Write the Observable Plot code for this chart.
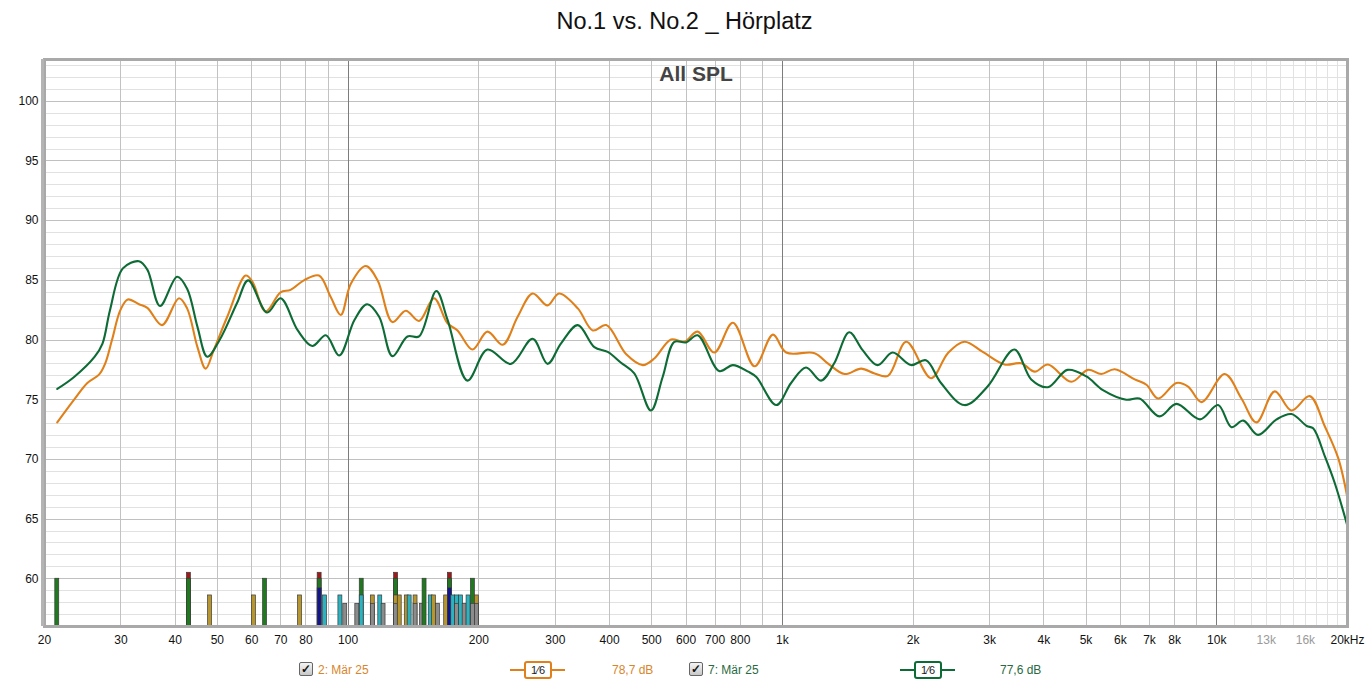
<!DOCTYPE html>
<html>
<head>
<meta charset="utf-8">
<script src="https://cdn.jsdelivr.net/npm/d3@7"></script>
<script src="https://cdn.jsdelivr.net/npm/@observablehq/plot@0.6"></script>
<style>
  html, body { margin: 0; padding: 0; background: #fff; }
  body { width: 1369px; height: 684px; position: relative; overflow: hidden; font-family: "Liberation Sans", Arial, sans-serif; }
  #title { position: absolute; left: 0; width: 1369px; top: 8px; text-align: center; font-size: 23.5px; color: #111; }
  #spl { position: absolute; left: 14px; top: 41px; font-size: 11px; color: #111; }
  #chart { position: absolute; left: 0; top: 40px; }
  .leg { position: absolute; top: 662px; font-size: 12px; line-height: 16px; white-space: nowrap; }
  .cb { position: absolute; top: 662px; width: 12px; height: 12px; border: 1px solid #666; border-radius: 2px;
        background: linear-gradient(#f4f4f4, #c8c8c8); font-size: 12px; line-height: 12px; text-align: center; color: #111; font-weight: bold; }
  .sym { position: absolute; top: 661px; height: 18px; }
  .sym .ln { position: absolute; top: 8px; left: 0; right: 0; height: 0; border-top: 2px solid; }
  .sym .bx { position: absolute; top: 0; left: 14px; width: 24px; height: 14px; background: #fff; border: 2px solid; border-radius: 3px;
             font-size: 11px; line-height: 14px; text-align: center; color: #222; }
</style>
</head>
<body>
<div id="title">No.1 vs. No.2 _ Hörplatz</div>
<div id="spl">SPL</div>
<div id="chart"></div>

<div class="cb" style="left:299px">✓</div>
<div class="leg" style="left:318px;color:#d8862c">2: Mär 25</div>
<div class="sym" style="left:510px;width:55px;color:#e0801a"><div class="ln"></div><div class="bx" style="border-color:#e0801a">1⁄6</div></div>
<div class="leg" style="left:612px;color:#d8862c">78,7 dB</div>
<div class="cb" style="left:689px">✓</div>
<div class="leg" style="left:708px;color:#2a6a42">7: Mär 25</div>
<div class="sym" style="left:900px;width:55px;color:#0d6b35"><div class="ln"></div><div class="bx" style="border-color:#0d6b35">1⁄6</div></div>
<div class="leg" style="left:1000px;color:#2a6a42">77,6 dB</div>

<script>
// ---- Data ----
const freqOrange = [21.4,23.4,25.1,26.7,27.6,28.6,29.9,31.1,33.0,34.5,37.3,40.8,42.6,45.0,47.0,49.1,52.7,58.1,60.2,64.6,69.9,73.7,79.1,85.7,91.2,96.2,101.4,109.8,116.9,126.5,135.8,145.7,157.7,169.4,178.6,193.4,209.3,227,245.7,266,287.8,306,338,366,393,437,477,507,554,594,638,697,769,863,951,1020,1186,1272,1390,1518,1630,1750,1928,2200,2404,2625,2892,3246,3548,3811,4087,4625,5052,5423,5821,6474,6888,7330,8074,8590,9227,10430,11400,12340,13600,14860,16370,17740,19040,20000];
const splOrange  = [73.1,75.0,76.4,77.1,78.05,80.0,82.5,83.4,83.0,82.7,81.25,83.5,82.65,79.4,77.6,79.2,81.95,85.4,84.9,82.4,84.0,84.2,85.0,85.4,83.6,82.1,84.7,86.2,85.0,81.5,82.45,81.6,83.5,81.4,80.8,79.2,80.7,79.6,81.95,83.9,82.9,83.9,82.65,80.8,81.25,78.8,77.9,78.45,80.05,79.85,80.7,78.95,81.45,77.8,80.45,78.95,78.9,78.05,77.15,77.6,77.2,77.0,79.85,76.8,78.9,79.85,79.0,77.95,78.05,77.35,77.95,76.5,77.5,77.15,77.55,76.7,76.25,75.1,76.4,76.1,74.8,77.15,75.1,73.1,75.7,74.1,75.3,72.75,70.1,66.75];

const freqGreen = [21.4,23.4,26.1,27.2,28.3,30.3,33.0,34.5,36.9,40.4,42.6,45.0,47.4,50.6,55.5,58.9,65.1,69.9,76.6,82.7,88.9,95.4,103.5,110.6,117.9,126.5,137,145.7,159.6,169.4,188.3,209.3,237,266,288,309,338,369,396,425,456,498,530,564,600,638,715,769,834,871,968,1047,1133,1227,1316,1425,1530,1656,1793,1977,2140,2318,2625,2967,3420,3740,4087,4530,5010,5470,6190,6640,7380,8074,9150,10070,10810,11510,12450,13730,14860,16110,16670,17740,18700,20000];
const splGreen  = [75.9,76.9,78.6,79.7,82.5,86.0,86.6,85.9,82.85,85.3,84.3,81.1,78.6,80.0,83.1,85.0,82.3,83.5,80.8,79.5,80.4,78.7,81.7,83.0,81.95,78.65,80.3,80.3,84.1,81.7,76.6,79.2,78.0,80.1,78.0,79.7,81.25,79.4,79.0,78.1,77.2,74.1,76.9,79.85,79.8,80.4,77.4,77.9,77.35,76.9,74.55,76.4,77.7,76.6,78.05,80.65,79.15,77.9,78.95,77.9,78.3,76.4,74.55,76.1,79.2,76.7,76.05,77.5,76.95,75.8,75.0,75.1,73.6,74.65,73.35,74.55,72.7,73.25,72.05,73.35,73.8,72.8,72.6,70.25,68.0,64.4];

// filter bars: frequency and stacked colour codes (R red, G green, B blue, A gold, C cyan, Y grey)
const barFreq  = [21.4,43.0,48.1,60.7,64.4,77.5,86,88.5,96,98.5,105,107.5,114,118.6,120.7,129,131.5,136.5,138.6,143,148,150,155,157.6,161,168.2,171.5,174.6,178.2,182,185.5,189.4,193.8,197.9];
const barStack = ["G","RG","A","A","G","A","RGB","C","C","Y","Y","GC","AY","C","Y","RGAY","A","A","C","AY","Y","G","C","A","Y","A","RGB","C","CY","C","Y","C","GY","AY"];
const barTop   = {R: 60.5, G: 60.0, B: 59.2, A: 58.6, C: 58.6, Y: 57.9};
const barColor = {R: "#a31818", G: "#1f7a1f", B: "#14148f", A: "#b8962e", C: "#2bb3c0", Y: "#8c8c8c"};
const barFloor = 56;

// ticks / grid
const xLabelTicks = [20,30,40,50,60,70,80,100,200,300,400,500,600,700,800,1000,2000,3000,4000,5000,6000,7000,8000,10000,20000];
const xGreyTicks = [13000,16000];
const xMinorGrid = [30,40,50,60,70,80,90,200,300,400,500,600,700,800,900,2000,3000,4000,5000,6000,7000,8000,9000];
const xMajorGrid = [100,1000,10000];
const xFineGrid = [11000,12000,13000,14000,15000,16000,17000,18000,19000];
const yTicks = [60,65,70,75,80,85,90,95,100];
const yMinorGrid = [57,58,59,61,62,63,64,66,67,68,69,71,72,73,74,76,77,78,79,81,82,83,84,86,87,88,89,91,92,93,94,96,97,98,99,101,102,103];

// ---- build tables ----
const orange = freqOrange.map((f, i) => ({f, db: splOrange[i]}));
const green = freqGreen.map((f, i) => ({f, db: splGreen[i]}));
const segs = [];
barFreq.forEach((f, i) => {
  barStack[i].split("").forEach(k => segs.push({f, k, top: barTop[k]}));
});
const halfW = 1.0105;
const fmt = v => v >= 20000 ? "20kHz" : v >= 1000 ? (v / 1000) + "k" : String(v);

const chart = Plot.plot({
  width: 1369,
  height: 620,
  marginLeft: 44,
  marginRight: 22,
  marginTop: 19,
  marginBottom: 34,
  x: {type: "log", domain: [20, 20000], axis: null},
  y: {domain: [56, 103.5], axis: null},
  style: {fontFamily: "'Liberation Sans', Arial, sans-serif", fontSize: "12px", color: "#111", background: "#fff"},
  marks: [
    Plot.ruleY(yMinorGrid, {stroke: "#e1e1e1", shapeRendering: "crispEdges"}),
    Plot.ruleY(yTicks, {stroke: "#c0c0c0", shapeRendering: "crispEdges"}),
    Plot.ruleX(xFineGrid, {stroke: "#e2e2e2", shapeRendering: "crispEdges"}),
    Plot.ruleX(xMinorGrid, {stroke: "#c2c2c2", shapeRendering: "crispEdges"}),
    Plot.ruleX(xMajorGrid, {stroke: "#7c7c7c", shapeRendering: "crispEdges"}),
    Plot.rect(segs, {
      x1: d => d.f / halfW, x2: d => d.f * halfW,
      y1: barFloor, y2: "top",
      fill: d => barColor[d.k], stroke: "#3a3a3a", strokeWidth: 0.7
    }),
    Plot.line(orange, {x: "f", y: "db", stroke: "#e0801a", strokeWidth: 2.1, curve: "catmull-rom"}),
    Plot.line(green, {x: "f", y: "db", stroke: "#0d6b35", strokeWidth: 2.1, curve: "catmull-rom"}),
    Plot.text(["All SPL"], {frameAnchor: "top", lineAnchor: "top", dy: 7, text: d => d, fontSize: 21, fontWeight: "bold", fill: "#444"}),
    Plot.frame({stroke: "#a9a9a9", strokeWidth: 3}),
    Plot.ruleX([20], {stroke: "#b4b4b4", strokeWidth: 3, dx: -2}),
    Plot.text(xLabelTicks, {x: d => d, frameAnchor: "bottom", lineAnchor: "top", dy: 9, text: fmt, fill: "#111", fontSize: 12}),
    Plot.text(xGreyTicks, {x: d => d, frameAnchor: "bottom", lineAnchor: "top", dy: 9, text: fmt, fill: "#9a9a9a", fontSize: 12}),
    Plot.text(yTicks, {y: d => d, frameAnchor: "left", textAnchor: "end", dx: -6, text: d => String(d), fill: "#111", fontSize: 12})
  ]
});
document.getElementById("chart").appendChild(chart);
</script>
</body>
</html>
